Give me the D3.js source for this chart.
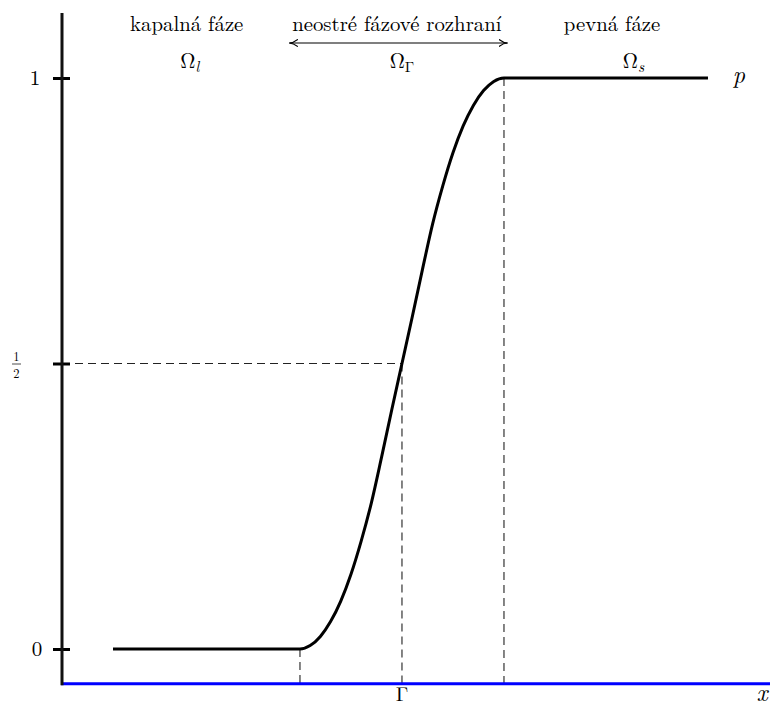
<!DOCTYPE html>
<html><head><meta charset="utf-8">
<script src="https://cdn.jsdelivr.net/npm/d3@7"></script>
<style>body{margin:0;background:#fff}svg{display:block}</style>
</head><body>
<script>
// ---- data ----
const curveX = [-2.833, -1, -0.9, -0.8, -0.7, -0.6, -0.5, -0.4, -0.3, -0.2, -0.1, 0, 0.1, 0.2, 0.3, 0.4, 0.5, 0.6, 0.7, 0.8, 0.9, 1, 3.0];
const curveP = [0, 0, 0.006, 0.022, 0.048, 0.084, 0.131, 0.189, 0.256, 0.336, 0.419, 0.5, 0.581, 0.664, 0.744, 0.811, 0.869, 0.916, 0.952, 0.978, 0.994, 1, 1];
const yTicks = [0, 0.5, 1];
const markX = [-1, 0, 1];            // interface bounds and Γ
const xDomain = [-3.333, 3.608];
const yDomain = [0, 1];
const axisBaseP = -0.061;
const yAxisTopP = 1.114;
const regionLabels = ["kapalná fáze", "neostré fázové rozhraní", "pevná fáze"];
const regionCenters = [-2.11, -0.05, 2.06];
const omegaCenters = [-2.08, 0, 2.27];
const omegaSubs = ["l", "Γ", "s"];
</script>
<script>
const W = 770, H = 708;
const FONT = "Latin Modern Roman";
const svg = d3.select("body").append("svg").attr("width", W).attr("height", H);
const x = d3.scaleLinear().domain(xDomain).range([62, 770]);
const y = d3.scaleLinear().domain(yDomain).range([649, 78]);

function txt(px, py, s, size, opts = {}) {
  const t = svg.append("text").attr("x", px).attr("y", py)
    .attr("text-anchor", opts.anchor || "middle")
    .style("font-family", FONT)
    .style("font-size", size + "px").attr("fill", "#000").text(s);
  if (opts.italic) t.style("font-style", "italic");
  return t;
}

// dashed guides
const dash = svg.append("g").attr("fill","none").attr("stroke","#222").attr("stroke-width",1.1).attr("stroke-dasharray","8,5");
dash.append("line").attr("x1", x(xDomain[0])).attr("x2", x(markX[1])).attr("y1", y(0.5)).attr("y2", y(0.5));
dash.append("line").attr("x1", x(markX[0])).attr("x2", x(markX[0])).attr("y1", y(0)).attr("y2", y(axisBaseP));
dash.append("line").attr("x1", x(markX[1])).attr("x2", x(markX[1])).attr("y1", y(0.5)).attr("y2", y(axisBaseP));
dash.append("line").attr("x1", x(markX[2])).attr("x2", x(markX[2])).attr("y1", y(1)).attr("y2", y(axisBaseP));

// curve
const pts = curveX.map((v,i)=>[v, curveP[i]]);
svg.append("path").datum(pts)
  .attr("d", d3.line().x(d=>x(d[0])).y(d=>y(d[1])).curve(d3.curveMonotoneX))
  .attr("fill","none").attr("stroke","#000").attr("stroke-width",3).attr("stroke-linejoin","round");

// blue x axis
svg.append("line").attr("x1", x(xDomain[0])-1).attr("x2", x(xDomain[1])).attr("y1", y(axisBaseP)).attr("y2", y(axisBaseP))
  .attr("stroke","#0000ff").attr("stroke-width",3);

// y axis
const yAxis = d3.axisLeft(y).tickValues(yTicks).tickSize(9).tickFormat("");
const gy = svg.append("g").attr("transform", `translate(${x(xDomain[0])},0)`).call(yAxis);
gy.select(".domain").remove();
gy.selectAll(".tick line").attr("x2",-9).attr("x1",8).attr("stroke","#000").attr("stroke-width",3);
svg.append("line").attr("x1", x(xDomain[0])).attr("x2", x(xDomain[0])).attr("y1", y(yAxisTopP)).attr("y2", y(axisBaseP)+1.5)
  .attr("stroke","#111").attr("stroke-width",3);

// tick labels
txt(35, y(1)+7, "1", 21);
txt(37, y(0)+7, "0", 21);
txt(16.5, y(0.5)-3, "1", 12.5);
svg.append("line").attr("x1",12).attr("x2",21).attr("y1",y(0.5)+0.5).attr("y2",y(0.5)+0.5).attr("stroke","#000").attr("stroke-width",0.7);
txt(16.5, y(0.5)+14, "2", 12.5);

// region labels
regionLabels.forEach((t,i)=> txt(x(regionCenters[i]), 31, t, 20.8));

// arrow
const defs = svg.append("defs");
defs.append("marker").attr("id","ah").attr("viewBox","0 0 10 10").attr("refX",9).attr("refY",5)
  .attr("markerWidth",9).attr("markerHeight",9).attr("markerUnits","userSpaceOnUse").attr("orient","auto-start-reverse")
  .append("path").attr("d","M0,1 Q5,5 10,5 Q5,5 0,9").attr("fill","none").attr("stroke","#000").attr("stroke-width",1.3);
svg.append("line").attr("x1", x(-1.1)).attr("x2", x(1.03)).attr("y1",43).attr("y2",43)
  .attr("stroke","#000").attr("stroke-width",1.2).attr("marker-start","url(#ah)").attr("marker-end","url(#ah)");

// Omega labels
omegaCenters.forEach((c,i)=>{
  const t = txt(x(c), 68, "", 21);
  t.append("tspan").text("Ω");
  const s = t.append("tspan").attr("dy",4).style("font-size","15px").text(omegaSubs[i]);
  if (i!==1) s.style("font-style","italic");
});

// axis names
txt(739, y(1)+5, "p", 24, {italic:true});
txt(762, 701, "x", 24, {italic:true});
txt(x(markX[1]), 701, "Γ", 20);
</script>
</body></html>
